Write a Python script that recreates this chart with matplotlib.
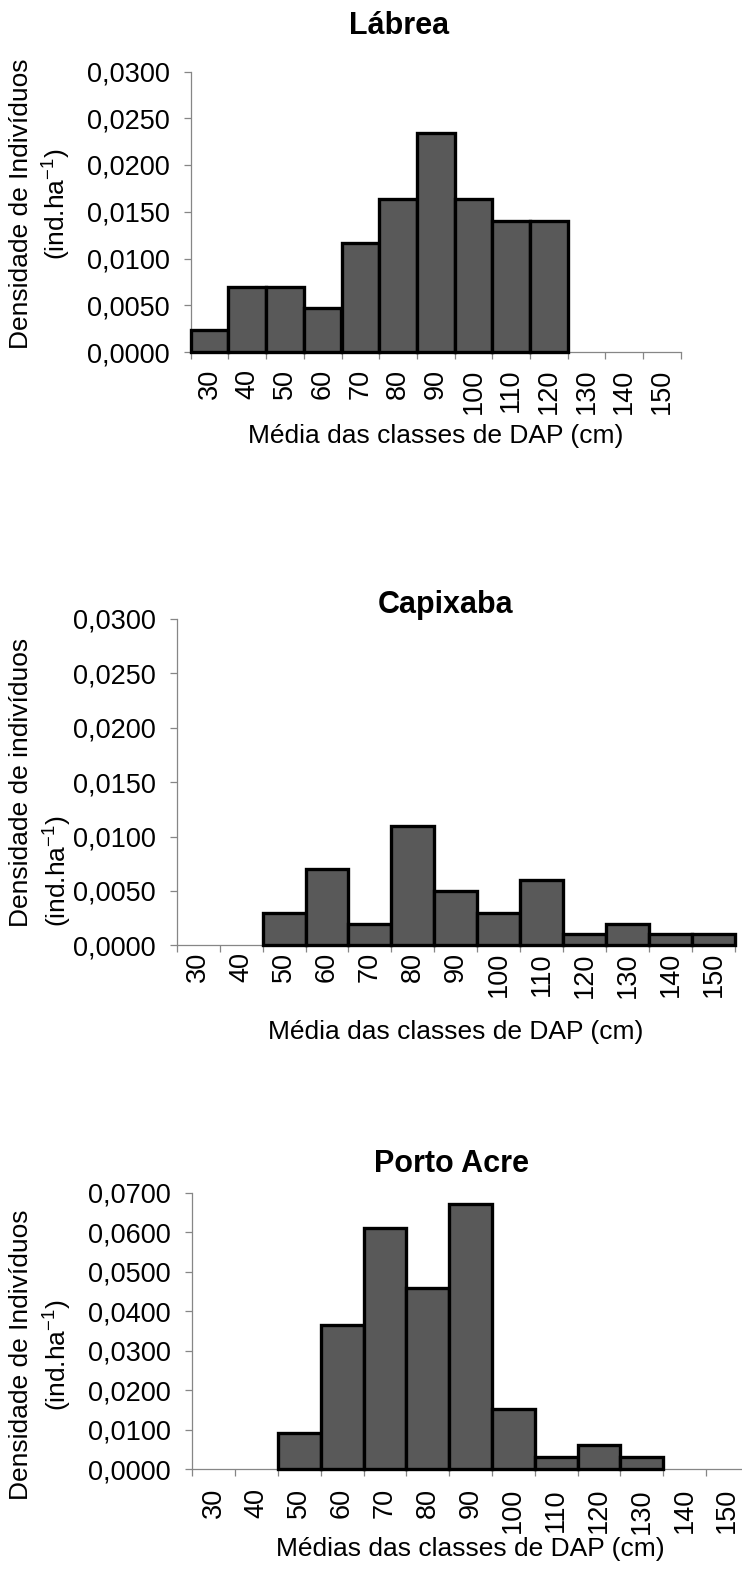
import matplotlib
matplotlib.use('Agg')
import matplotlib.pyplot as plt
from matplotlib.ticker import FixedLocator, FuncFormatter, MultipleLocator
import numpy as np

plt.rcParams['font.family'] = ['Liberation Sans', 'DejaVu Sans']
plt.rcParams['mathtext.fontset'] = 'custom'
plt.rcParams['mathtext.rm'] = 'Liberation Sans'
plt.rcParams['mathtext.it'] = 'Liberation Sans:italic'
plt.rcParams['mathtext.bf'] = 'Liberation Sans:bold'

# ---- data ----
classes = [30, 40, 50, 60, 70, 80, 90, 100, 110, 120, 130, 140, 150]
class_labels = [str(c) for c in classes]
labrea = [0.0023, 0.0070, 0.0070, 0.0047, 0.0117, 0.0164, 0.0234, 0.0164, 0.0140, 0.0140, 0.0, 0.0, 0.0]
capixaba = [0.0, 0.0, 0.0030, 0.0070, 0.0020, 0.0110, 0.0050, 0.0030, 0.0060, 0.0010, 0.0020, 0.0010, 0.0010]
porto_acre = [0.0, 0.0, 0.0092, 0.0366, 0.0611, 0.0458, 0.0672, 0.0153, 0.0031, 0.0061, 0.0031, 0.0, 0.0]

titles = ['Lábrea', 'Capixaba', 'Porto Acre']
xlabels = ['Média das classes de DAP (cm)', 'Média das classes de DAP (cm)',
           'Médias das classes de DAP (cm)']
ylabels = ['Densidade de Indivíduos\n(ind.ha$^{-1}$)',
           'Densidade de indivíduos\n(ind.ha$^{-1}$)',
           'Densidade de Indivíduos\n(ind.ha$^{-1}$)']

W, H = 742, 1571
fig = plt.figure(figsize=(W / 100, H / 100), dpi=100)


def fx(x):
    return x / W


def fy(y):
    return 1 - y / H


layout = [
    dict(box=(190.7, 71.5, 680.8, 352.0), ymax=0.03, ystep=0.005, title_xy=(399, 34.5),
         xlabel_xy=(435.7, 436), ylabel_xy=(41, 204), malign='center', xpad=12.0),
    dict(box=(176.7, 619.0, 735.0, 945.3), ymax=0.03, ystep=0.005, title_xy=(446, 612.7),
         xlabel_xy=(456, 1032), ylabel_xy=(41.5, 782.5), malign='left', xpad=5.0),
    dict(box=(192.3, 1192.7, 748.7, 1469.3), ymax=0.07, ystep=0.01, title_xy=(452, 1172),
         xlabel_xy=(470.5, 1549), ylabel_xy=(41.5, 1355), malign='center', xpad=13.5),
]
series = [labrea, capixaba, porto_acre]

spine_col = '#868686'
x = np.arange(len(classes))

for vals, title, xl, yl, lay in zip(series, titles, xlabels, ylabels, layout):
    l, t, r, b = lay['box']
    ax = fig.add_axes([fx(l), fy(b), (r - l) / W, (b - t) / H])
    v = np.array(vals)
    m = v > 0
    ax.bar(x[m], v[m], width=1.0, color='#595959', edgecolor='black',
           linewidth=2.4, zorder=3, clip_on=False, joinstyle='miter')
    ax.set_xlim(-0.5, len(classes) - 0.5)
    ax.set_ylim(0, lay['ymax'])
    ax.yaxis.set_major_locator(MultipleLocator(lay['ystep']))
    ax.yaxis.set_major_formatter(FuncFormatter(lambda val, pos: f"{val:.4f}".replace('.', ',')))
    ax.xaxis.set_major_locator(FixedLocator(x))
    ax.set_xticklabels(class_labels, rotation=90)
    ax.xaxis.set_minor_locator(FixedLocator(np.arange(len(classes) + 1) - 0.5))
    for s in ['top', 'right']:
        ax.spines[s].set_visible(False)
    for s in ['left', 'bottom']:
        ax.spines[s].set_color(spine_col)
        ax.spines[s].set_linewidth(0.9)
        ax.spines[s].set_zorder(1)
    ax.tick_params(axis='y', which='major', direction='out', length=5.3, width=0.9,
                   color=spine_col, labelsize=19.5, pad=10)
    ax.tick_params(axis='x', which='major', length=0, labelsize=19.5, pad=lay['xpad'])
    ax.tick_params(axis='x', which='minor', direction='out', length=5.3, width=0.9,
                   color=spine_col)
    ax.patch.set_alpha(0)

    tx, ty = lay['title_xy']
    fig.text(fx(tx), fy(ty), title, ha='center', va='baseline', fontsize=22,
             fontweight='bold')
    xx, xy = lay['xlabel_xy']
    fig.text(fx(xx), fy(xy), xl, ha='center', va='center', fontsize=19)
    yx, yy = lay['ylabel_xy']
    fig.text(fx(yx), fy(yy), yl, ha='center', va='center', rotation=90, fontsize=19,
             multialignment=lay['malign'], linespacing=1.35)

fig.savefig('out.png', dpi=100, facecolor='white')
